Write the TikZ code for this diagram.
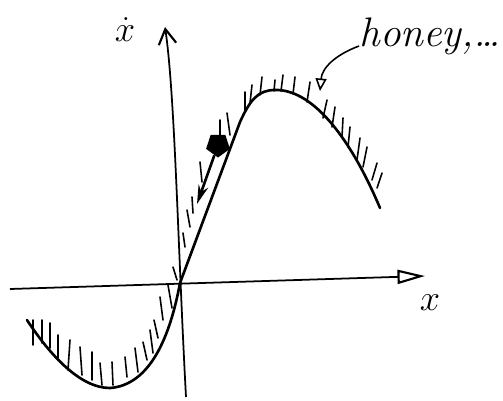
\documentclass[tikz,border=0pt]{standalone}
\usepackage{amsmath,amssymb}
\usepackage{tikz}
\usetikzlibrary{positioning, arrows.meta, shapes.geometric}

\begin{document}
\begin{tikzpicture}[x=0.02cm, y=-0.02cm,
    axis/.style={line width=1pt, black},
    curve/.style={line width=1.5pt, black, line cap=round, line join=round},
    hatch/.style={line width=0.9pt, black, line cap=round},
    lbl/.style={inner sep=0pt, font=\huge},
]
\useasboundingbox (0,0) rectangle (503,400);

% axes
\coordinate (xl) at (10,289);
\coordinate (xr) at (425,276);
\coordinate (yb) at (186,397);
\coordinate (yt) at (165,27);
\draw[axis, -{Triangle[open, length=0.55cm, width=0.28cm, line width=1.2pt]}] (xl) -- (xr);
\draw[axis, -{Straight Barb[length=0.3cm, width=0.35cm, line width=1.2pt]}] (yb) .. controls (178,250) and (175,95) .. (yt);

\node[lbl] (xlab) at (430,303) {$x$};
\node[lbl] (vlab) at (125,30) {$\dot{x}$};

% the curve
\draw[curve] (380,208) .. controls (348,132) and (310,89) .. (275,90)
    .. controls (258,90) and (250,100) .. (240,122)
    -- (180,283)
    .. controls (170,337) and (150,385) .. (110,388)
    .. controls (80,388) and (50,355) .. (27,320);

% hatching
\foreach \a/\b/\c/\d in {
    173/267/177/280, 183/233/185/247, 187/210/190/227, 192/197/193/213,
    200/162/202/182, 220/120/220/135, 227/113/230/135, 245/92/245/110,
    252/85/250/103, 262/77/260/95, 275/80/274/91, 283/75/281/91,
    295/77/293/94, 310/82/307/102, 327/100/323/118, 335/107/332/127,
    343/118/342/137, 350/127/348/147, 360/138/357/160, 367/147/363/167,
    377/163/372/180, 382/173/377/188,
    33/320/33/345, 42/320/42/343, 50/323/50/348, 58/335/58/360,
    70/340/68/370, 80/347/82/375, 92/352/92/380, 100/363/102/385,
    112/362/113/385, 125/357/127/377, 135/348/138/372, 143/342/147/360,
    150/330/153/353, 154/320/158/338, 160/297/163/320, 168/285/172/308} {
    \draw[hatch] (\a,\b) -- (\c,\d);
}

% ball and its motion
\node[regular polygon, regular polygon sides=5, rotate=180, fill=black,
      minimum size=0.5cm, inner sep=0pt] (ball) at (218,145) {};
\coordinate (down) at (197,204);
\draw[line width=1.5pt, -{Stealth[length=0.38cm, width=0.2cm]}] (ball) -- (down);

% note
\node[lbl, font=\fontsize{23.5}{28}\selectfont\itshape, anchor=base west] (honey) at (359,46) {honey,\dots};
\coordinate (lead) at (320,91);
\draw[line width=0.9pt, -{Triangle[open, length=0.25cm, width=0.22cm]}]
    (honey.base west) .. controls (335,55) and (322,68) .. (lead);

\end{tikzpicture}
\end{document}
